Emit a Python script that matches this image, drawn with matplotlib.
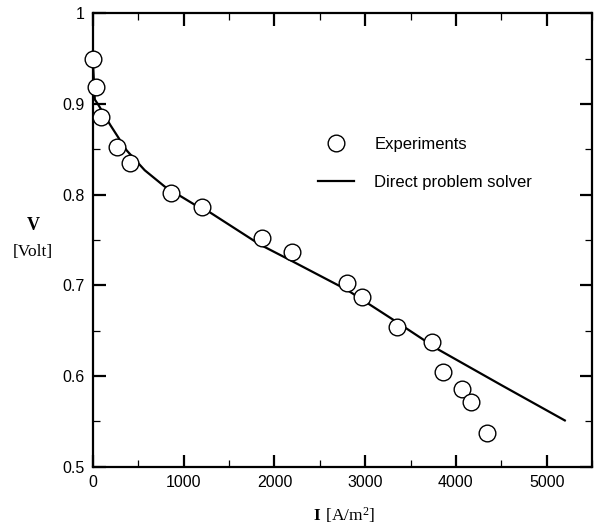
import matplotlib
matplotlib.use("Agg")
import matplotlib.pyplot as plt
from matplotlib.ticker import MultipleLocator

# experimental points
exp_current = [0, 30, 90, 270, 410, 860, 1200, 1860, 2190, 2800, 2965, 3350, 3735, 3855, 4065, 4165, 4340]
exp_voltage = [0.950, 0.919, 0.886, 0.853, 0.835, 0.802, 0.786, 0.752, 0.737, 0.703, 0.687, 0.654, 0.637, 0.604, 0.586, 0.571, 0.537]

# direct problem solver curve
model_current = [0, 20, 60, 190, 370, 570, 790, 1120, 1250, 1840, 2170, 2800, 3310, 3810, 4500, 5200]
model_voltage = [0.945, 0.905, 0.899, 0.877, 0.849, 0.827, 0.809, 0.789, 0.783, 0.745, 0.728, 0.695, 0.662, 0.629, 0.590, 0.551]

plt.rcParams["font.family"] = ["Liberation Sans", "DejaVu Sans"]
plt.rcParams["mathtext.fontset"] = "custom"
plt.rcParams["mathtext.rm"] = "Liberation Serif"
plt.rcParams["mathtext.bf"] = "Liberation Serif:bold"

fig = plt.figure(figsize=(5.95, 5.26), dpi=100)
ax = fig.add_axes([0.1563, 0.1128, 0.8387, 0.8617])

ax.plot(model_current, model_voltage, color="black", linewidth=1.6,
        label="Direct problem solver", zorder=2)
ax.plot(exp_current, exp_voltage, linestyle="none", marker="o", markersize=12,
        markerfacecolor="white", markeredgecolor="black", markeredgewidth=1.0,
        label="Experiments", zorder=3, clip_on=False)

ax.set_xlim(0, 5500)
ax.set_ylim(0.5, 1.0)
ax.xaxis.set_major_locator(MultipleLocator(1000))
ax.xaxis.set_minor_locator(MultipleLocator(500))
ax.yaxis.set_minor_locator(MultipleLocator(0.05))
ax.set_yticks([0.5, 0.6, 0.7, 0.8, 0.9, 1.0])
ax.set_yticklabels(["0.5", "0.6", "0.7", "0.8", "0.9", "1"])

ax.tick_params(which="both", direction="in", top=True, right=True, labelsize=11.5)
ax.tick_params(which="major", length=9, width=1.6, pad=6)
ax.tick_params(which="minor", length=5, width=0.9)
for sp in ax.spines.values():
    sp.set_linewidth(1.6)

fig.text(33 / 595, 1 - 226 / 526, "V", ha="center", va="center",
         fontsize=13, fontweight="bold", family="Liberation Serif")
fig.text(33 / 595, 1 - 252 / 526, "[Volt]", ha="center", va="center",
         fontsize=12.5, family="Liberation Serif")
fig.text(344 / 595, 1 - 515 / 526, r"$\mathbf{I}\ \mathrm{[A/m^2]}$", ha="center", va="center",
         fontsize=12.5)

handles, labels = ax.get_legend_handles_labels()
ax.legend(handles[::-1], labels[::-1], loc="upper left",
          bbox_to_anchor=(0.42, 0.76), frameon=False, fontsize=12,
          handlelength=2.2, handletextpad=1.2, labelspacing=1.36)

fig.savefig("out.png", dpi=100)
